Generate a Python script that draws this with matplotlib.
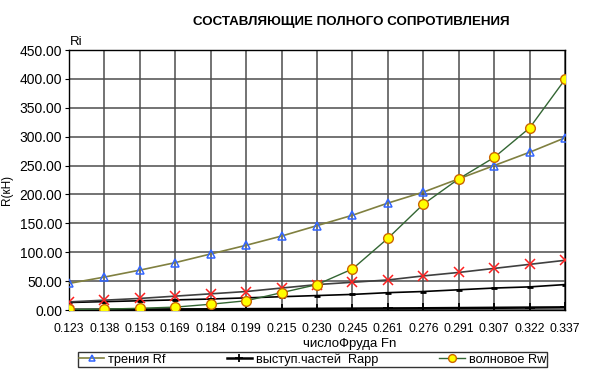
import numpy as np
import matplotlib
matplotlib.use('Agg')
import matplotlib.pyplot as plt
from matplotlib.ticker import FormatStrFormatter

plt.rcParams['font.family'] = ['Liberation Sans', 'DejaVu Sans']

fn = ['0.123', '0.138', '0.153', '0.169', '0.184', '0.199', '0.215', '0.230',
      '0.245', '0.261', '0.276', '0.291', '0.307', '0.322', '0.337']
# трения Rf
rf = [46, 57, 69, 82, 97, 112, 128, 146, 164, 185, 204, 227, 250, 273, 298]
# выступ.частей Rapp
rapp = [0.5, 0.7, 0.9, 1.1, 1.3, 1.6, 1.8, 2.1, 2.4, 2.7, 3.0, 3.4, 3.8, 4.2, 4.6]
# волновое Rw
rw = [1, 1.5, 3, 5, 10, 16, 30, 44, 71, 124, 183, 227, 264, 315, 399]
# red crosses
r_x = [14, 17, 20, 24, 28, 32, 38, 44, 48, 52, 59, 65, 72, 79, 86]
# black line, small markers
r_line = [13, 14.5, 16, 17.5, 19, 21, 23, 25, 27, 30, 32, 35, 38, 40, 44]

x = np.arange(len(fn))

fig = plt.figure(figsize=(5.99, 3.76), dpi=100)
ax = fig.add_axes([69/599, 1-310/376, (565-69)/599, 260/376])

ax.plot(x, r_line, color='black', lw=1.2, marker='_', ms=5, mew=2, zorder=3)
ax.plot(x, r_x, color='#404040', lw=1.2, marker='x', ms=6.5, mew=1.1,
        mec='#ff2020', zorder=3)
l1, = ax.plot(x, rf, color='#808040', lw=1.2, marker='^', ms=6, mfc='none',
              mec='#3366ff', mew=1.1, zorder=4, label='трения Rf')
l2, = ax.plot(x, rapp, color='black', lw=1.8, marker='+', ms=7, mew=1.3,
              zorder=4, label='выступ.частей  Rapp')
l3, = ax.plot(x, rw, color='#336633', lw=1.0, marker='o', ms=7, mfc='#ffff00',
              mec='#cc6600', mew=1.0, zorder=5, label='волновое Rw')

ax.set_xlim(0, len(fn) - 1)
ax.set_ylim(0, 450)
ax.set_yticks(np.arange(0, 451, 50))
ax.yaxis.set_major_formatter(FormatStrFormatter('%.2f'))
ax.set_xticks(x)
ax.set_xticklabels(fn)
ax.grid(True, color='#4d4d4d', lw=1.1)
ax.set_axisbelow(True)
ax.tick_params(axis='y', labelsize=10, length=3, pad=2)
ax.tick_params(axis='x', labelsize=8.8, length=0, pad=9.5)
for s in ax.spines.values():
    s.set_color('black')
    s.set_linewidth(1.0)

fig.text(351/599, 1-22/376, 'СОСТАВЛЯЮЩИЕ ПОЛНОГО СОПРОТИВЛЕНИЯ',
         ha='center', va='center', fontsize=9.6, fontweight='bold')
fig.text(70/599, 1-42/376, 'Ri', ha='left', va='center', fontsize=9.5)
fig.text(7/599, 1-190/376, 'R(кН)', ha='center', va='center', fontsize=8.5,
         rotation=90)
fig.text(350/599, 1-344/376, 'числоФруда Fn', ha='center', va='center',
         fontsize=9.5)

leg = fig.legend(handles=[l1, l2, l3], ncol=3, loc='center', mode='expand',
                 bbox_to_anchor=(75/599, 1-369/376, 475/599, 19/376),
                 fontsize=9.2, frameon=True, fancybox=False,
                 borderpad=0.1, borderaxespad=0.2, handlelength=2.0,
                 handletextpad=0.3, markerscale=0.8)
leg.get_frame().set_edgecolor('black')
leg.get_frame().set_linewidth(1.0)

fig.savefig('out.png', dpi=100)
